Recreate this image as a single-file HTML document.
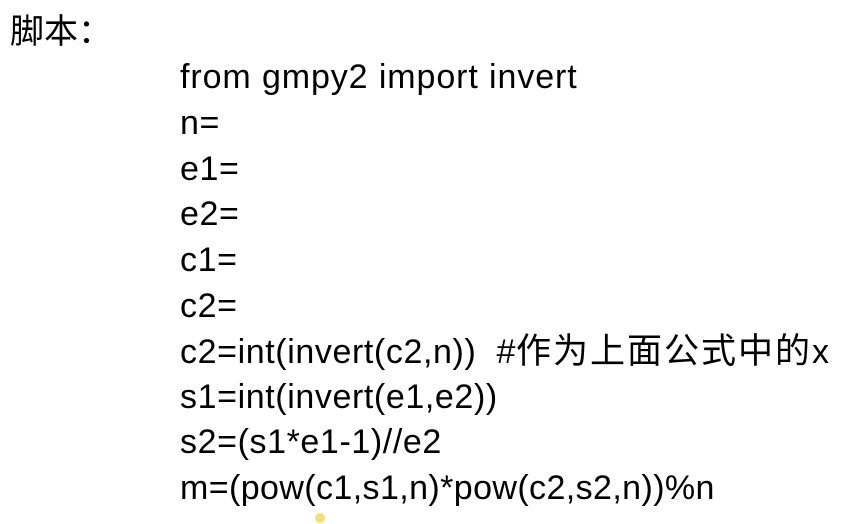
<!DOCTYPE html>
<html><head><meta charset="utf-8"><style>
html,body{margin:0;padding:0;background:#fff;width:860px;height:524px;overflow:hidden;position:relative}
.t{position:absolute;font-family:"Liberation Sans","Noto Sans CJK SC",sans-serif;color:#000;white-space:nowrap;line-height:1}
.c{left:180px;font-size:34px;letter-spacing:0.6px}
.k{font-size:35px;letter-spacing:2px}
</style></head><body>
<div class="t" style="left:10px;top:12px;font-size:34px;font-family:'Noto Sans CJK SC','WenQuanYi Zen Hei',sans-serif">脚本：</div>
<div class="t c" style="top:60px;letter-spacing:0.9px">from gmpy2 import invert</div>
<div class="t c" style="top:106px">n=</div>
<div class="t c" style="top:152px">e1=</div>
<div class="t c" style="top:197px">e2=</div>
<div class="t c" style="top:243px">c1=</div>
<div class="t c" style="top:289px">c2=</div>
<div class="t c" style="top:334px">c2=int(invert(c2,n))&nbsp; #<span class="k">作为上面公式中的</span>x</div>
<div class="t c" style="top:380px">s1=int(invert(e1,e2))</div>
<div class="t c" style="top:425px">s2=(s1*e1-1)//e2</div>
<div class="t c" style="top:471px;letter-spacing:0.4px">m=(pow(c1,s1,n)*pow(c2,s2,n))%n</div>
<div style="position:absolute;left:315px;top:513px;width:10px;height:10px;border-radius:50%;background:#f5e070"></div>
</body></html>
